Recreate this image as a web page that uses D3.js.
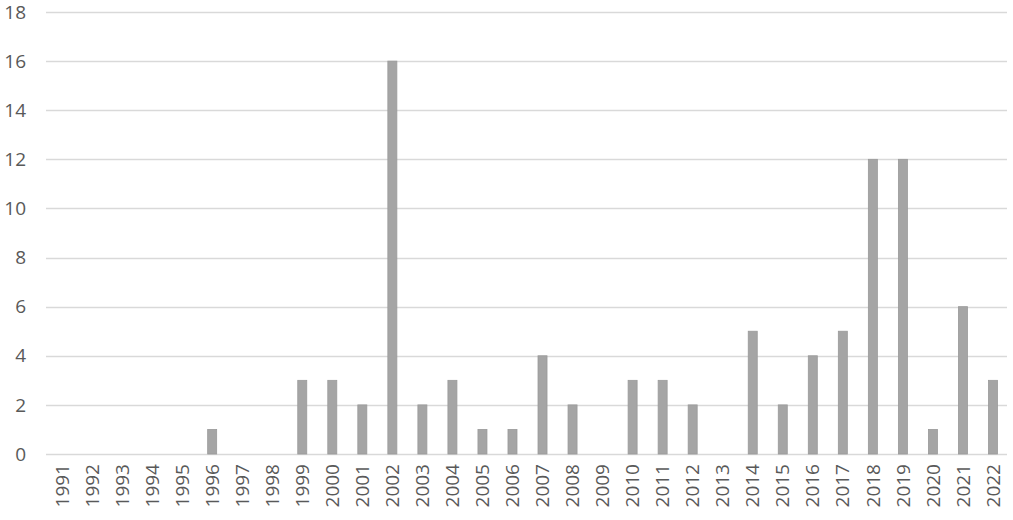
<!DOCTYPE html>
<html><head><meta charset="utf-8">
<script src="https://cdn.jsdelivr.net/npm/d3@7"></script>
<style>body{margin:0;background:#fff}svg{display:block}</style>
</head><body>
<script>
const years = ["1991","1992","1993","1994","1995","1996","1997","1998","1999","2000","2001","2002","2003","2004","2005","2006","2007","2008","2009","2010","2011","2012","2013","2014","2015","2016","2017","2018","2019","2020","2021","2022"];
const counts = [0,0,0,0,0,1,0,0,3,3,2,16,2,3,1,1,4,2,0,3,3,2,0,5,2,4,5,12,12,1,6,3];
const yTicks = [0,2,4,6,8,10,12,14,16,18];

const W = 1013, H = 520;
const svg = d3.select("body").append("svg").attr("width", W).attr("height", H);
const x = d3.scaleBand().domain(years).range([47, 1008]).paddingInner(0.7).paddingOuter(0.35);
const y = d3.scaleLinear().domain([0, 18]).range([454, 12]);

const font = "'Open Sans', sans-serif";
// gridlines
svg.append("g").selectAll("line").data(yTicks).join("line")
  .attr("x1", 46).attr("x2", 1007)
  .attr("y1", d => Math.round(y(d)) + 0.5).attr("y2", d => Math.round(y(d)) + 0.5)
  .attr("stroke", "#d9d9d9").attr("stroke-width", 1.3);

// y labels
svg.append("g").selectAll("text").data(yTicks).join("text")
  .attr("x", 26).attr("y", d => y(d)).attr("dy", "0.35em")
  .attr("text-anchor", "end").attr("font-family", font).attr("font-size", 19)
  .attr("fill", "#595959").text(d => d);

// bars
svg.append("g").selectAll("rect").data(years.map((yr, i) => ({yr, v: counts[i]})).filter(d => d.v > 0)).join("rect")
  .attr("x", d => x(d.yr)).attr("width", x.bandwidth())
  .attr("y", d => y(d.v)).attr("height", d => y(0) - y(d.v))
  .attr("fill", "#a5a5a5").attr("stroke", "#9a9a9a").attr("stroke-width", 0.8);

// x labels
svg.append("g").selectAll("text").data(years).join("text")
  .attr("transform", d => `translate(${x(d) + x.bandwidth() / 2},464) rotate(-90)`)
  .attr("dy", "0.35em").attr("text-anchor", "end")
  .attr("font-family", font).attr("font-size", 19).attr("fill", "#595959").text(d => d);
</script>
</body></html>
